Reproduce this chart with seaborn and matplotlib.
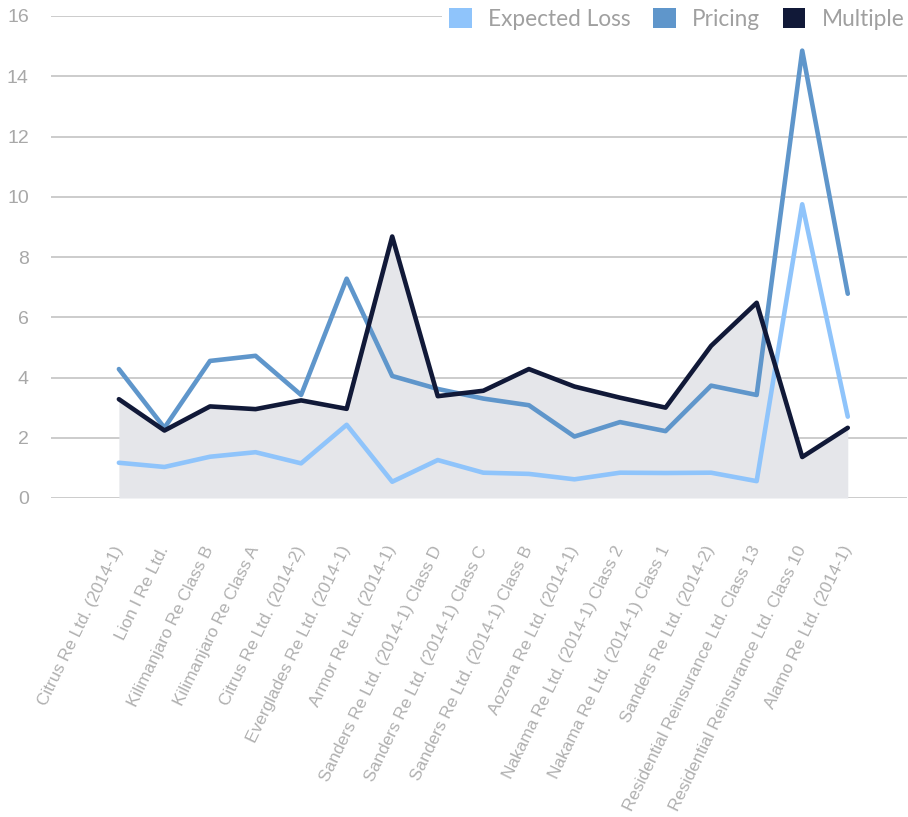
import numpy as np
import pandas as pd
import matplotlib
matplotlib.use("Agg")
import matplotlib.pyplot as plt
from matplotlib.patches import Patch
import seaborn as sns

names = [
    "Citrus Re Ltd. (2014-1)",
    "Lion I Re Ltd.",
    "Kilimanjaro Re Class B",
    "Kilimanjaro Re Class A",
    "Citrus Re Ltd. (2014-2)",
    "Everglades Re Ltd. (2014-1)",
    "Armor Re Ltd. (2014-1)",
    "Sanders Re Ltd. (2014-1) Class D",
    "Sanders Re Ltd. (2014-1) Class C",
    "Sanders Re Ltd. (2014-1) Class B",
    "Aozora Re Ltd. (2014-1)",
    "Nakama Re Ltd. (2014-1) Class 2",
    "Nakama Re Ltd. (2014-1) Class 1",
    "Sanders Re Ltd. (2014-2)",
    "Residential Reinsurance Ltd. Class 13",
    "Residential Reinsurance Ltd. Class 10",
    "Alamo Re Ltd. (2014-1)",
]
expected_loss = [1.17, 1.03, 1.37, 1.52, 1.15, 2.43, 0.54, 1.26, 0.84, 0.80,
                 0.62, 0.84, 0.83, 0.84, 0.56, 9.75, 2.70]
pricing = [4.28, 2.33, 4.55, 4.72, 3.42, 7.28, 4.05, 3.62, 3.30, 3.08,
           2.04, 2.52, 2.22, 3.73, 3.42, 14.85, 6.78]
multiple = [3.28, 2.24, 3.04, 2.95, 3.24, 2.96, 8.68, 3.38, 3.56, 4.28,
            3.70, 3.33, 3.00, 5.05, 6.48, 1.36, 2.33]

series = ["Expected Loss", "Pricing", "Multiple"]
colors = ["#8fc4fb", "#5f96cb", "#111938"]

pos = np.arange(len(names))
df = pd.DataFrame({
    "pos": np.tile(pos, 3),
    "value": expected_loss + pricing + multiple,
    "series": np.repeat(series, len(names)),
})

sns.set_style("white")
plt.rcParams["font.family"] = ["Liberation Sans", "DejaVu Sans"]

fig = plt.figure(figsize=(9.08, 8.17), dpi=100)
ax = fig.add_axes([51 / 908, 1 - 498 / 817, 856 / 908, 482 / 817])

# shaded area under the multiple line
ax.fill_between(pos, 0, multiple, color="#e5e6ea", lw=0, zorder=1)
sns.lineplot(data=df, x="pos", y="value", hue="series", palette=colors,
             hue_order=series, linewidth=3.3, legend=False, ax=ax, zorder=3)

ax.set_ylim(0, 16)
ax.set_xlim(-1.49, 17.3)
ax.set_yticks(range(0, 17, 2))
ax.yaxis.grid(True, color="#c8c8c8", linewidth=1.3, zorder=0)
ax.set_axisbelow(True)
for s in ax.spines.values():
    s.set_visible(False)
ax.set_xlabel("")
ax.set_ylabel("")

ax.set_xticks(pos)
ax.set_xticklabels(names, rotation=64, ha="right", va="center",
                   rotation_mode="anchor", fontsize=12.4, color="#b0b0b0")
ax.tick_params(axis="x", length=0, pad=35)
ax.tick_params(axis="y", length=0, pad=16, labelsize=14, labelcolor="#a8a8a8")

handles = [Patch(facecolor=c, edgecolor="none") for c in colors]
leg = ax.legend(handles, series, loc="center right", bbox_to_anchor=(1.005, 0.994),
                ncol=3, frameon=True, handlelength=1.0, borderaxespad=0,
                handleheight=1.0, handletextpad=0.72, columnspacing=1.0,
                borderpad=0.3, labelcolor="#a0a0a0",
                prop={"family": ["Lato", "DejaVu Sans"], "size": 16.3})
leg.get_frame().set_facecolor("white")
leg.get_frame().set_edgecolor("none")
leg.get_frame().set_alpha(1)

fig.savefig("out.png", dpi=100)
